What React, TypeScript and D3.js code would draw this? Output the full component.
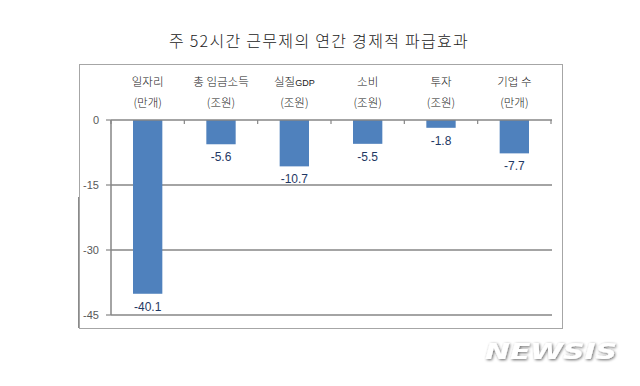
import React from "react";
import * as d3 from "d3";

const categories = ["일자리", "총 임금소득", "실질GDP", "소비", "투자", "기업 수"];
const units = ["(만개)", "(조원)", "(조원)", "(조원)", "(조원)", "(만개)"];
const values = [-40.1, -5.6, -10.7, -5.5, -1.8, -7.7];
const yTicks = [0, -15, -30, -45];
const title = "주 52시간 근무제의 연간 경제적 파급효과";

const W = 640;
const H = 386;
const KR = "'Malgun Gothic','Noto Sans CJK KR',sans-serif";
const NUM = "'Liberation Sans',Arial,sans-serif";

export default function App() {
  const x = d3
    .scaleBand<string>()
    .domain(categories)
    .range([111, 551])
    .paddingInner(0.6)
    .paddingOuter(0.3);
  const y = d3.scaleLinear().domain([0, -45]).range([120, 315]);
  const step = x.step();
  const bounds = d3.range(categories.length + 1).map((i) => 111 + i * step);

  return (
    <svg width={W} height={H} style={{ position: "absolute", left: 0, top: 0, background: "#fff" }}>
      <defs>
        <filter id="sh" x="-20%" y="-40%" width="140%" height="180%">
          <feGaussianBlur in="SourceAlpha" stdDeviation="1.4" />
          <feOffset dx="1" dy="1" result="b" />
          <feComponentTransfer>
            <feFuncA type="linear" slope="0.6" />
          </feComponentTransfer>
          <feMerge>
            <feMergeNode />
            <feMergeNode in="SourceGraphic" />
          </feMerge>
        </filter>
      </defs>
      <rect width={W} height={H} fill="#fff" />
      <text
        x={319}
        y={47}
        textAnchor="middle"
        fontFamily={KR}
        fontSize={16}
        fontWeight={300}
        letterSpacing={1.3}
        fill="#222"
      >
        {title}
      </text>
      {/* frame */}
      <rect x={79.5} y={64.5} width={483} height={264} fill="none" stroke="#a6a6a6" strokeWidth={1} />
      <line x1={78.5} x2={78.5} y1={197} y2={328} stroke="#8a8a8a" strokeWidth={1} />

      {/* grid lines */}
      {yTicks.filter((t) => t !== 0).map((t) => (
        <line key={t} x1={111} x2={552} y1={y(t)} y2={y(t)} stroke="#868686" strokeWidth={1.5} />
      ))}
      {/* y axis */}
      <line x1={111} x2={111} y1={y(0)} y2={y(-45)} stroke="#868686" strokeWidth={1.5} />
      {yTicks.map((t) => (
        <g key={t}>
          <line x1={106} x2={111} y1={y(t)} y2={y(t)} stroke="#868686" strokeWidth={1.2} />
          <text x={99} y={y(t) + 4} textAnchor="end" fontFamily={NUM} fontSize={11} fill="#595959">
            {t}
          </text>
        </g>
      ))}

      {/* bars */}
      {categories.map((c, i) => (
        <rect
          key={c}
          x={x(c)}
          y={y(0)}
          width={x.bandwidth()}
          height={y(values[i]) - y(0)}
          fill="#4f81bd"
        />
      ))}
      {/* zero axis */}
      <line x1={111} x2={552} y1={y(0)} y2={y(0)} stroke="#868686" strokeWidth={1.5} />
      {bounds.map((b, i) => (
        <line key={i} x1={b} x2={b} y1={y(0)} y2={y(0) + 4} stroke="#868686" strokeWidth={1.2} />
      ))}

      {/* value labels */}
      {categories.map((c, i) => (
        <text
          key={c}
          x={(x(c) as number) + x.bandwidth() / 2}
          y={y(values[i]) + 17}
          textAnchor="middle"
          fontFamily={NUM}
          fontSize={12}
          fill="#1f3864"
        >
          {values[i].toFixed(1)}
        </text>
      ))}

      {/* category headers */}
      {categories.map((c, i) => {
        const cx = (x(c) as number) + x.bandwidth() / 2;
        return (
          <g key={c}>
            <text x={cx} y={86} textAnchor="middle" fontFamily={KR} fontSize={11.5} fontWeight={300} fill="#222">
              {c === "실질GDP" ? (
                <>
                  실질<tspan fontFamily={NUM} fontSize={9}>GDP</tspan>
                </>
              ) : (
                c
              )}
            </text>
            <text x={cx} y={107} textAnchor="middle" fontFamily={KR} fontSize={11.5} fontWeight={300} fill="#222">
              {units[i]}
            </text>
          </g>
        );
      })}

      {/* watermark */}
      <text
        x={551}
        y={359}
        textAnchor="middle"
        fontFamily="'DejaVu Sans',sans-serif"
        fontWeight="bold"
        fontStyle="italic"
        fontSize={22}
        fill="#ffffff"
        filter="url(#sh)"
        textLength={132}
        lengthAdjust="spacingAndGlyphs"
      >
        NEWSIS
      </text>
    </svg>
  );
}
